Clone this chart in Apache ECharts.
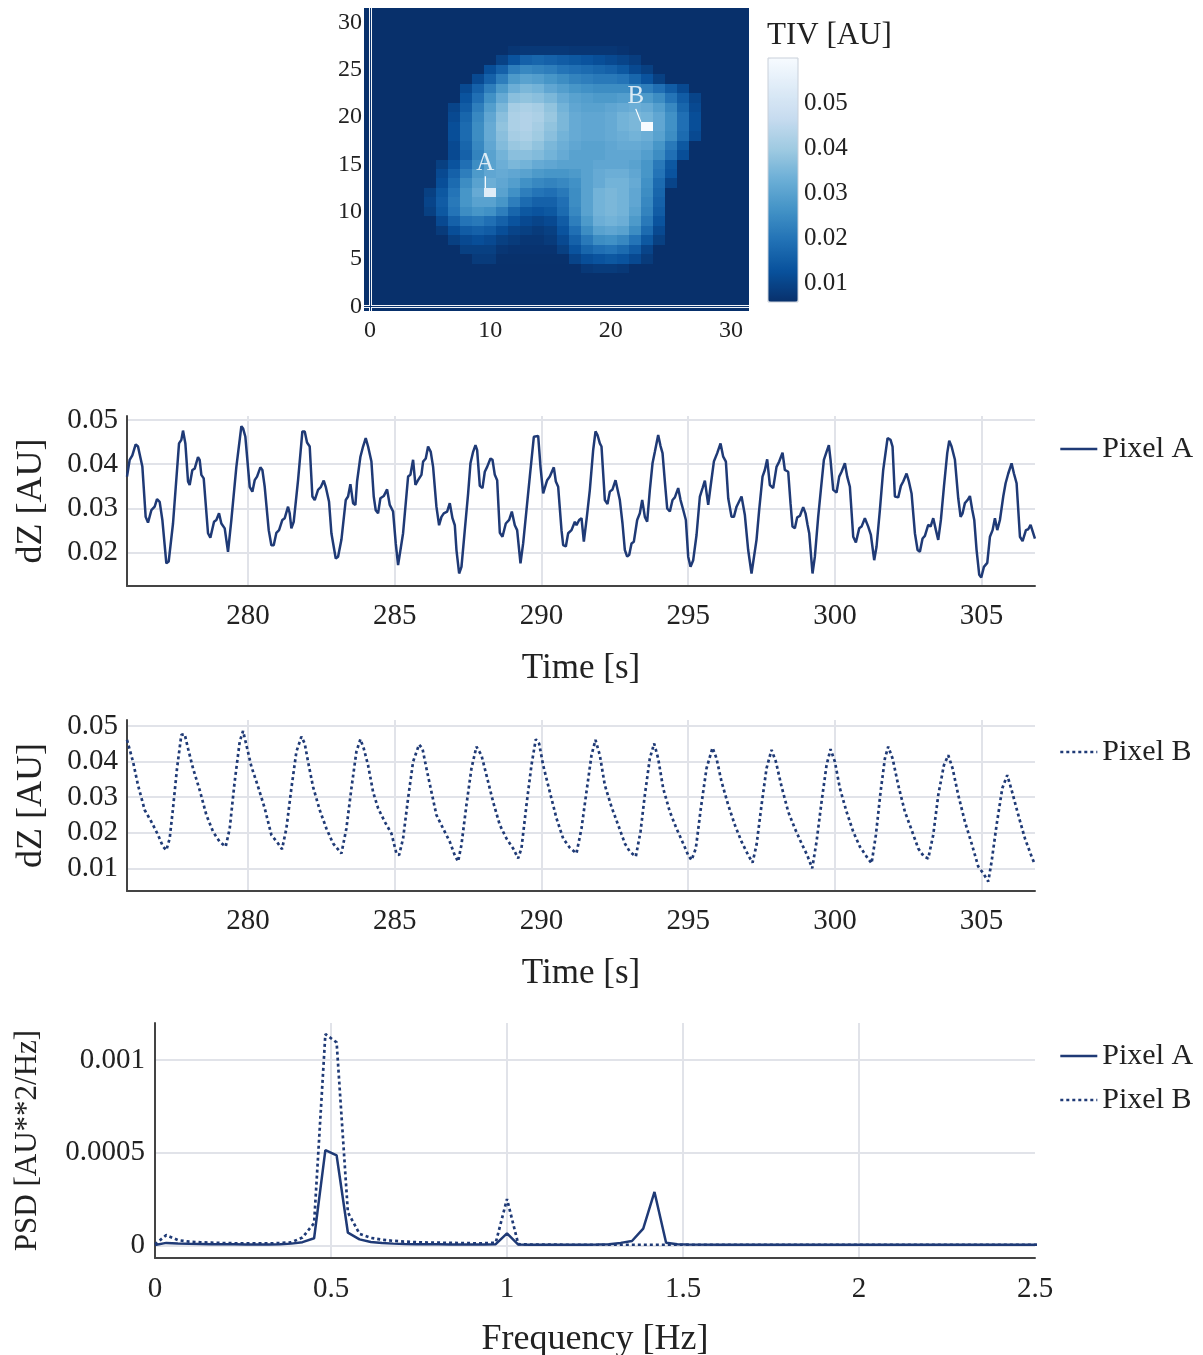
<!DOCTYPE html>
<html>
<head>
<meta charset="utf-8">
<title>TIV map and pixel signals</title>
<script src="https://cdn.jsdelivr.net/npm/echarts@6/dist/echarts.min.js"></script>
<style>
  html, body { margin: 0; padding: 0; background: #ffffff; }
  #chart { width: 1203px; height: 1355px; }
</style>
</head>
<body>
<div id="chart"></div>
<script>
// ---------------------------------------------------------------
// Tidal impedance variation map (32 x 32 pixels), values in 1e-3 AU
// ---------------------------------------------------------------
const pixelIndex = [0,1,2,3,4,5,6,7,8,9,10,11,12,13,14,15,16,17,18,19,20,21,22,23,24,25,26,27,28,29,30,31];
const tivBackground = 5.8;
// [row, first column, values from that column on]
const tivRows = [
  [27, 12, [7, 7.5, 7.5, 7.5, 7.5, 7, 7, 7, 7, 6.5]],
  [26, 11, [9.5, 13, 16, 17, 16, 15, 14, 13, 12, 11, 10, 8.5]],
  [25, 10, [12, 16, 22, 24, 23, 22, 20, 19, 18, 17, 16, 14, 11, 9]],
  [24, 9,  [11, 16, 22, 28, 30, 29, 27, 25, 23, 22, 21, 21, 20, 17, 13, 9]],
  [23, 8,  [11, 16, 22, 28, 33, 35, 34, 31, 29, 27, 26, 25, 25, 25, 24, 22, 19, 15, 11]],
  [22, 8,  [13, 19, 26, 32, 37, 38, 37, 35, 32, 30, 29, 28, 28, 29, 29, 28, 25, 20, 15, 10]],
  [21, 7,  [10, 15, 22, 29, 35, 41, 42, 41, 38, 34, 31, 30, 30, 31, 32, 33, 32, 29, 24, 17, 11]],
  [20, 7,  [11, 17, 24, 31, 37, 42, 43, 42, 39, 35, 32, 31, 31, 32, 34, 35, 34, 31, 26, 19, 12]],
  [19, 7,  [12, 18, 25, 32, 38, 42, 43, 41, 38, 35, 32, 31, 31, 32, 34, 35, 60, 31, 26, 19, 12]],
  [18, 7,  [12, 18, 25, 32, 37, 41, 42, 40, 37, 34, 32, 31, 31, 32, 33, 34, 33, 30, 25, 18, 11]],
  [17, 7,  [11, 17, 24, 31, 36, 39, 40, 38, 35, 33, 31, 30, 30, 31, 32, 32, 31, 27, 21, 14]],
  [16, 7,  [11, 16, 23, 30, 34, 37, 37, 36, 34, 32, 30, 30, 30, 31, 31, 31, 29, 25, 19, 12]],
  [15, 6,  [9, 13, 19, 25, 30, 33, 35, 34, 32, 31, 30, 30, 30, 31, 31, 31, 30, 27, 21, 14]],
  [14, 6,  [11, 16, 22, 28, 31, 32, 31, 30, 28, 27, 27, 28, 30, 32, 33, 33, 31, 27, 20, 13]],
  [13, 6,  [12, 18, 25, 30, 33, 31, 29, 26, 24, 23, 24, 26, 30, 32, 34, 34, 32, 26, 18, 10]],
  [12, 5,  [9, 14, 20, 27, 32, 53.5, 30, 26, 22, 20, 19, 21, 25, 30, 34, 35, 34, 31, 25, 17]],
  [11, 5,  [10, 15, 21, 27, 30, 30, 27, 22, 18, 16, 16, 19, 25, 30, 34, 35, 34, 31, 24, 16]],
  [10, 5,  [9, 14, 20, 25, 27, 26, 22, 17, 14, 13, 14, 18, 24, 30, 34, 35, 34, 30, 23, 15]],
  [9, 6,   [11, 16, 20, 21, 19, 16, 13, 11, 10, 11, 15, 22, 28, 33, 34, 33, 28, 21, 13]],
  [8, 6,   [8, 12, 15, 16, 15, 12, 10, 9, 8, 9, 13, 19, 25, 30, 31, 30, 25, 18, 11]],
  [7, 7,   [9, 11, 12, 11, 9, 8, 7, 7, 8, 11, 16, 21, 25, 26, 24, 20, 14, 9]],
  [6, 8,   [9, 9, 9, 7, 6.5, 6.5, 6.5, 6.5, 9, 13, 17, 19, 20, 18, 15, 10]],
  [5, 9,   [8, 8, 6, 6, 6, 6, 6, 6, 10, 12, 13, 14, 13, 11, 8]],
  [4, 18,  [7.5, 8, 8, 7.5]]
];
const markedPixels = [
  { name: 'A', col: 10, row: 12 },
  { name: 'B', col: 23, row: 19 }
];
const tivRange = [0.0058, 0.06];
const bluesScale = ['#08306b', '#08519c', '#2171b5', '#4292c6', '#6baed6', '#9ecae1', '#c6dbef', '#deebf7', '#f7fbff'];

// ---------------------------------------------------------------
// Pixel A impedance signal
// ---------------------------------------------------------------
const timeA = [
  275.875, 275.966, 276.057, 276.170, 276.250, 276.398, 276.511, 276.591, 276.705, 276.818,
  276.898, 276.989, 277.080, 277.216, 277.295, 277.443, 277.648, 277.727, 277.784, 277.864,
  277.955, 278.011, 278.102, 278.182, 278.295, 278.352, 278.409, 278.489, 278.636, 278.716,
  278.841, 278.920, 279.011, 279.091, 279.205, 279.318, 279.432, 279.602, 279.773, 279.830,
  279.909, 280.057, 280.148, 280.227, 280.307, 280.420, 280.489, 280.568, 280.705, 280.795,
  280.875, 280.966, 281.057, 281.170, 281.250, 281.364, 281.420, 281.477, 281.557, 281.705,
  281.852, 281.932, 282.011, 282.102, 282.193, 282.273, 282.386, 282.477, 282.580, 282.648,
  282.761, 282.841, 282.989, 283.068, 283.182, 283.330, 283.409, 283.489, 283.580, 283.659,
  283.716, 283.830, 283.920, 284.011, 284.091, 284.205, 284.284, 284.352, 284.432, 284.511,
  284.625, 284.739, 284.830, 284.943, 285.034, 285.114, 285.170, 285.284, 285.455, 285.534,
  285.625, 285.705, 285.795, 285.909, 285.966, 286.057, 286.136, 286.227, 286.307, 286.420,
  286.511, 286.592, 286.671, 286.785, 286.876, 286.967, 287.047, 287.103, 287.194, 287.274,
  287.387, 287.501, 287.580, 287.671, 287.751, 287.808, 287.899, 287.990, 288.069, 288.149,
  288.262, 288.331, 288.410, 288.490, 288.581, 288.671, 288.785, 288.899, 288.990, 289.092,
  289.171, 289.285, 289.376, 289.490, 289.603, 289.740, 289.808, 289.888, 289.967, 290.058,
  290.115, 290.194, 290.285, 290.421, 290.490, 290.569, 290.683, 290.740, 290.831, 290.910,
  291.024, 291.138, 291.194, 291.285, 291.365, 291.444, 291.535, 291.649, 291.762, 291.842,
  291.910, 291.990, 292.046, 292.160, 292.251, 292.330, 292.421, 292.524, 292.592, 292.671,
  292.762, 292.842, 292.921, 292.990, 293.069, 293.149, 293.262, 293.353, 293.433, 293.524,
  293.603, 293.694, 293.785, 293.865, 293.978, 294.058, 294.126, 294.205, 294.285, 294.376,
  294.467, 294.546, 294.660, 294.740, 294.830, 294.921, 295.001, 295.080, 295.171, 295.285,
  295.399, 295.490, 295.569, 295.683, 295.762, 295.876, 295.990, 296.103, 296.194, 296.285,
  296.365, 296.478, 296.558, 296.649, 296.705, 296.819, 296.932, 297.045, 297.159, 297.216,
  297.329, 297.420, 297.534, 297.613, 297.693, 297.784, 297.897, 298.011, 298.102, 298.216,
  298.295, 298.409, 298.488, 298.556, 298.636, 298.716, 298.806, 298.920, 298.999, 299.068,
  299.125, 299.238, 299.318, 299.431, 299.522, 299.625, 299.715, 299.795, 299.852, 299.943,
  300.057, 300.147, 300.227, 300.341, 300.420, 300.511, 300.625, 300.716, 300.829, 300.909,
  301.022, 301.136, 301.227, 301.340, 301.420, 301.534, 301.647, 301.795, 301.897, 301.965,
  302.045, 302.159, 302.250, 302.329, 302.443, 302.522, 302.613, 302.727, 302.818, 302.897,
  302.988, 303.068, 303.181, 303.261, 303.352, 303.443, 303.522, 303.613, 303.716, 303.829,
  303.897, 303.977, 304.091, 304.204, 304.284, 304.352, 304.431, 304.522, 304.602, 304.681,
  304.750, 304.829, 304.920, 304.988, 305.079, 305.193, 305.284, 305.375, 305.454, 305.534,
  305.625, 305.738, 305.818, 305.909, 306.022, 306.102, 306.193, 306.307, 306.397, 306.511,
  306.590, 306.670, 306.738, 306.818
];
const dzA = [
  0.0372, 0.0410, 0.0420, 0.0445, 0.0440, 0.0395, 0.0281, 0.0268, 0.0296, 0.0304,
  0.0321, 0.0315, 0.0274, 0.0176, 0.0180, 0.0266, 0.0447, 0.0455, 0.0476, 0.0447,
  0.0361, 0.0353, 0.0387, 0.0390, 0.0416, 0.0410, 0.0376, 0.0368, 0.0244, 0.0234,
  0.0270, 0.0274, 0.0289, 0.0266, 0.0255, 0.0202, 0.0274, 0.0394, 0.0486, 0.0481,
  0.0462, 0.0349, 0.0338, 0.0364, 0.0372, 0.0393, 0.0387, 0.0349, 0.0251, 0.0217,
  0.0217, 0.0245, 0.0251, 0.0274, 0.0278, 0.0304, 0.0289, 0.0255, 0.0270, 0.0364,
  0.0474, 0.0474, 0.0449, 0.0440, 0.0327, 0.0319, 0.0342, 0.0348, 0.0363, 0.0349,
  0.0315, 0.0244, 0.0187, 0.0191, 0.0229, 0.0319, 0.0327, 0.0355, 0.0312, 0.0308,
  0.0361, 0.0417, 0.0440, 0.0459, 0.0440, 0.0406, 0.0327, 0.0296, 0.0289, 0.0323,
  0.0328, 0.0343, 0.0308, 0.0293, 0.0221, 0.0172, 0.0176, 0.0244, 0.0372, 0.0376,
  0.0410, 0.0353, 0.0364, 0.0376, 0.0406, 0.0413, 0.0440, 0.0428, 0.0394, 0.0304,
  0.0262, 0.0281, 0.0289, 0.0293, 0.0312, 0.0278, 0.0262, 0.0206, 0.0153, 0.0168,
  0.0251, 0.0334, 0.0402, 0.0428, 0.0443, 0.0432, 0.0351, 0.0346, 0.0383, 0.0394,
  0.0413, 0.0410, 0.0376, 0.0364, 0.0245, 0.0236, 0.0266, 0.0274, 0.0293, 0.0262,
  0.0251, 0.0176, 0.0221, 0.0297, 0.0372, 0.0462, 0.0466, 0.0464, 0.0394, 0.0334,
  0.0330, 0.0364, 0.0372, 0.0393, 0.0361, 0.0349, 0.0251, 0.0217, 0.0214, 0.0244,
  0.0251, 0.0270, 0.0262, 0.0274, 0.0278, 0.0225, 0.0274, 0.0342, 0.0432, 0.0474,
  0.0466, 0.0447, 0.0440, 0.0319, 0.0310, 0.0338, 0.0343, 0.0364, 0.0361, 0.0319,
  0.0266, 0.0206, 0.0191, 0.0195, 0.0221, 0.0225, 0.0274, 0.0289, 0.0319, 0.0281,
  0.0270, 0.0342, 0.0402, 0.0428, 0.0466, 0.0441, 0.0425, 0.0361, 0.0300, 0.0293,
  0.0319, 0.0325, 0.0346, 0.0319, 0.0297, 0.0274, 0.0191, 0.0168, 0.0183, 0.0240,
  0.0327, 0.0346, 0.0363, 0.0308, 0.0349, 0.0406, 0.0425, 0.0447, 0.0417, 0.0406,
  0.0323, 0.0281, 0.0281, 0.0304, 0.0308, 0.0327, 0.0285, 0.0206, 0.0153, 0.0157,
  0.0229, 0.0297, 0.0372, 0.0387, 0.0411, 0.0353, 0.0346, 0.0394, 0.0406, 0.0426,
  0.0387, 0.0383, 0.0312, 0.0259, 0.0255, 0.0280, 0.0283, 0.0303, 0.0289, 0.0263,
  0.0244, 0.0153, 0.0191, 0.0281, 0.0342, 0.0410, 0.0428, 0.0443, 0.0410, 0.0342,
  0.0336, 0.0372, 0.0383, 0.0402, 0.0372, 0.0349, 0.0236, 0.0223, 0.0255, 0.0259,
  0.0278, 0.0259, 0.0240, 0.0183, 0.0214, 0.0297, 0.0387, 0.0459, 0.0455, 0.0440,
  0.0327, 0.0325, 0.0351, 0.0361, 0.0379, 0.0361, 0.0334, 0.0244, 0.0206, 0.0202,
  0.0232, 0.0238, 0.0263, 0.0259, 0.0278, 0.0251, 0.0229, 0.0274, 0.0349, 0.0425,
  0.0453, 0.0440, 0.0410, 0.0323, 0.0281, 0.0289, 0.0312, 0.0319, 0.0328, 0.0297,
  0.0274, 0.0206, 0.0150, 0.0144, 0.0168, 0.0177, 0.0236, 0.0251, 0.0278, 0.0251,
  0.0274, 0.0327, 0.0357, 0.0379, 0.0402, 0.0379, 0.0357, 0.0236, 0.0226, 0.0251,
  0.0253, 0.0263, 0.0259, 0.0232
];

// ---------------------------------------------------------------
// Pixel B impedance signal
// ---------------------------------------------------------------
const timeB = [
  275.875, 276.080, 276.250, 276.477, 276.705, 276.932, 277.102, 277.216, 277.330, 277.443,
  277.580, 277.727, 277.841, 277.955, 278.125, 278.352, 278.580, 278.807, 279.034, 279.239,
  279.375, 279.545, 279.716, 279.830, 279.943, 280.114, 280.341, 280.568, 280.795, 281.023,
  281.159, 281.307, 281.477, 281.648, 281.818, 281.932, 282.045, 282.216, 282.443, 282.670,
  282.898, 283.182, 283.352, 283.523, 283.693, 283.830, 283.943, 284.091, 284.261, 284.432,
  284.659, 284.886, 285.057, 285.148, 285.284, 285.455, 285.625, 285.830, 285.943, 286.080,
  286.250, 286.420, 286.648, 286.875, 287.045, 287.159, 287.273, 287.443, 287.614, 287.784,
  287.955, 288.125, 288.352, 288.580, 288.807, 289.034, 289.205, 289.318, 289.489, 289.659,
  289.807, 289.920, 290.057, 290.284, 290.511, 290.739, 290.966, 291.193, 291.364, 291.534,
  291.705, 291.841, 291.989, 292.159, 292.386, 292.614, 292.841, 293.011, 293.216, 293.375,
  293.523, 293.693, 293.841, 293.977, 294.148, 294.375, 294.602, 294.830, 295.000, 295.114,
  295.261, 295.432, 295.625, 295.830, 295.966, 296.136, 296.364, 296.591, 296.819, 297.046,
  297.193, 297.330, 297.500, 297.670, 297.841, 297.989, 298.182, 298.410, 298.636, 298.864,
  299.057, 299.227, 299.375, 299.546, 299.716, 299.852, 300.000, 300.170, 300.398, 300.625,
  300.852, 301.080, 301.250, 301.398, 301.557, 301.705, 301.818, 301.966, 302.159, 302.386,
  302.614, 302.841, 303.034, 303.182, 303.352, 303.523, 303.716, 303.864, 304.011, 304.205,
  304.432, 304.659, 304.886, 305.057, 305.227, 305.341, 305.511, 305.705, 305.875, 306.023,
  306.250, 306.477, 306.705, 306.818
];
const dzB = [
  0.0461, 0.0400, 0.0334, 0.0264, 0.0231, 0.0194, 0.0161, 0.0151, 0.0184, 0.0269,
  0.0381, 0.0475, 0.0477, 0.0437, 0.0381, 0.0320, 0.0250, 0.0203, 0.0175, 0.0161,
  0.0212, 0.0344, 0.0456, 0.0486, 0.0447, 0.0386, 0.0330, 0.0269, 0.0194, 0.0170,
  0.0154, 0.0212, 0.0325, 0.0428, 0.0470, 0.0451, 0.0400, 0.0329, 0.0264, 0.0212,
  0.0170, 0.0142, 0.0212, 0.0325, 0.0428, 0.0463, 0.0437, 0.0390, 0.0315, 0.0269,
  0.0231, 0.0198, 0.0142, 0.0137, 0.0184, 0.0297, 0.0400, 0.0448, 0.0437, 0.0381,
  0.0315, 0.0250, 0.0212, 0.0175, 0.0137, 0.0119, 0.0166, 0.0278, 0.0381, 0.0442,
  0.0418, 0.0362, 0.0287, 0.0222, 0.0184, 0.0156, 0.0128, 0.0156, 0.0278, 0.0390,
  0.0463, 0.0451, 0.0390, 0.0315, 0.0241, 0.0184, 0.0158, 0.0142, 0.0212, 0.0315,
  0.0418, 0.0461, 0.0418, 0.0334, 0.0273, 0.0222, 0.0170, 0.0147, 0.0133, 0.0203,
  0.0306, 0.0409, 0.0451, 0.0409, 0.0325, 0.0259, 0.0212, 0.0170, 0.0137, 0.0123,
  0.0156, 0.0269, 0.0381, 0.0439, 0.0409, 0.0344, 0.0278, 0.0222, 0.0175, 0.0137,
  0.0116, 0.0166, 0.0278, 0.0381, 0.0433, 0.0400, 0.0330, 0.0259, 0.0212, 0.0170,
  0.0137, 0.0100, 0.0175, 0.0287, 0.0390, 0.0435, 0.0400, 0.0325, 0.0259, 0.0203,
  0.0161, 0.0133, 0.0114, 0.0194, 0.0315, 0.0409, 0.0442, 0.0409, 0.0334, 0.0259,
  0.0208, 0.0156, 0.0133, 0.0128, 0.0194, 0.0306, 0.0390, 0.0418, 0.0381, 0.0306,
  0.0231, 0.0170, 0.0105, 0.0086, 0.0063, 0.0119, 0.0222, 0.0325, 0.0362, 0.0320,
  0.0250, 0.0184, 0.0133, 0.0110
];

// ---------------------------------------------------------------
// Power spectral density, values in 1e-6 AU^2/Hz
// ---------------------------------------------------------------
const freqHz = [
  0, 0.032, 0.065, 0.097, 0.129, 0.161, 0.194, 0.226, 0.258, 0.290,
  0.323, 0.355, 0.387, 0.419, 0.452, 0.484, 0.516, 0.548, 0.581, 0.613,
  0.645, 0.677, 0.710, 0.742, 0.774, 0.806, 0.839, 0.871, 0.903, 0.935,
  0.968, 1.000, 1.032, 1.065, 1.097, 1.161, 1.226, 1.258, 1.290, 1.323,
  1.355, 1.387, 1.419, 1.452, 1.484, 1.516, 1.613, 1.774, 1.935, 2.097,
  2.258, 2.419, 2.516
];
const psdA = [
  2, 13, 10, 8, 7, 6, 5, 5, 4, 4,
  4, 6, 9, 17, 38, 514, 485, 68, 32, 18,
  12, 9, 7, 6, 5, 5, 4, 4, 4, 4,
  6, 64, 4, 3, 3, 3, 3, 4, 6, 13,
  23, 90, 288, 14, 6, 4, 3, 3, 3, 3,
  3, 3, 3
];
const psdB = [
  5, 55, 28, 20, 16, 14, 12, 11, 10, 10,
  10, 12, 16, 42, 120, 1140, 1095, 178, 62, 40,
  30, 24, 20, 17, 15, 14, 13, 12, 11, 11,
  14, 250, 6, 4, 4, 3, 3, 3, 3, 3,
  3, 3, 3, 3, 3, 3, 3, 3, 3, 3,
  3, 3, 3
];

// ---------------------------------------------------------------
// Styling
// ---------------------------------------------------------------
const FONT = "'Liberation Serif', 'Times New Roman', serif";
const INK = '#222222';
const TRACE = '#1f3a76';
const GRID_LINE = '#e1e3e9';
const AXIS_LINE = '#444444';
const DOT = [3, 3];

// Build the map cells
const heatData = [];
const cellValue = {};
pixelIndex.forEach(r => pixelIndex.forEach(c => { cellValue[r + ':' + c] = tivBackground; }));
tivRows.forEach(([r, c0, vals]) => vals.forEach((v, i) => { cellValue[r + ':' + (c0 + i)] = v; }));
pixelIndex.forEach(r => pixelIndex.forEach(c => heatData.push([c, r, cellValue[r + ':' + c] / 1000])));

const zip = (xs, ys, k) => xs.map((x, i) => [x, ys[i] * (k || 1)]);

const tickLabel = (size, margin) => ({
  fontFamily: FONT, fontSize: size, color: INK, margin: margin,
  showMinLabel: false, showMaxLabel: false
});
const gridSplit = {
  show: true, showMinLine: false, showMaxLine: false,
  lineStyle: { color: GRID_LINE, width: 2 }
};
const solidAxis = { show: true, onZero: false, lineStyle: { color: AXIS_LINE, width: 2 } };
const nameStyle = size => ({ fontFamily: FONT, fontSize: size, color: INK });
const legendBase = {
  padding: 0, orient: 'vertical', itemWidth: 37, itemHeight: 14, itemGap: 14,
  selectedMode: false, itemStyle: { opacity: 0 }, lineStyle: { width: 2.6 },
  textStyle: { fontFamily: FONT, fontSize: 30, color: INK }
};

const labelOffsets = [[-5, -29], [-11, -30]];

// Each map cell covers one band on whole pixels, overlapping its neighbour by one pixel
const renderCell = (params, api) => {
  const c = api.coord([api.value(0), api.value(1)]);
  const s = api.size([1, 1]);
  const x0 = Math.round(c[0] - s[0] / 2);
  const y0 = Math.round(c[1] - s[1] / 2);
  const x1 = Math.round(c[0] + s[0] / 2);
  const y1 = Math.round(c[1] + s[1] / 2);
  return {
    type: 'rect',
    shape: { x: x0, y: y0 - 1, width: x1 - x0 + 1, height: y1 - y0 + 1 },
    style: { fill: api.visual('color'), stroke: null, lineWidth: 0 }
  };
};

const option = {
  animation: false,
  backgroundColor: '#ffffff',
  textStyle: { fontFamily: FONT },
  title: {
    text: 'TIV [AU]', left: 767, top: 20, padding: 0,
    textStyle: { fontFamily: FONT, fontSize: 31, fontWeight: 'normal', color: INK }
  },
  legend: [
    Object.assign({}, legendBase, { data: ['Pixel A'], left: 1059, top: 434 }),
    Object.assign({}, legendBase, { data: ['Pixel B'], left: 1059, top: 737 }),
    Object.assign({}, legendBase, { data: ['Pixel A', 'Pixel B'], left: 1059, top: 1041 })
  ],
  visualMap: {
    type: 'continuous', seriesIndex: 0, dimension: 2, min: tivRange[0], max: tivRange[1],
    orient: 'vertical', left: 768, top: 58, itemWidth: 30, itemHeight: 244,
    padding: 0, calculable: false, hoverLink: false, realtime: false,
    inRange: { color: bluesScale }
  },
  grid: [
    { left: 364, top: 8, width: 385, height: 303, outerBoundsMode: 'none' },
    { left: 768, top: 58, width: 30, height: 244, show: true, z: 6,
      borderColor: '#c9d0da', borderWidth: 1, backgroundColor: 'transparent', outerBoundsMode: 'none' },
    { left: 127, top: 416, width: 908, height: 170, outerBoundsMode: 'none' },
    { left: 127, top: 720, width: 908, height: 171, outerBoundsMode: 'none' },
    { left: 155, top: 1023, width: 880, height: 235, outerBoundsMode: 'none' }
  ],
  xAxis: [
    { type: 'category', gridIndex: 0, data: pixelIndex.map(String),
      axisLine: { show: false }, axisTick: { show: false }, splitLine: { show: false },
      axisLabel: { interval: 9, fontFamily: FONT, fontSize: 24, color: INK, margin: 8 } },
    { type: 'value', gridIndex: 1, min: 0, max: 1, show: false },
    { type: 'value', gridIndex: 2, min: 275.875, max: 306.82, splitNumber: 6,
      axisLine: solidAxis, axisTick: { show: false }, axisLabel: tickLabel(29, 16),
      splitLine: gridSplit,
      name: 'Time [s]', nameLocation: 'middle', nameGap: 65, nameTextStyle: nameStyle(35) },
    { type: 'value', gridIndex: 3, min: 275.875, max: 306.82, splitNumber: 6,
      axisLine: solidAxis, axisTick: { show: false }, axisLabel: tickLabel(29, 16),
      splitLine: gridSplit,
      name: 'Time [s]', nameLocation: 'middle', nameGap: 65, nameTextStyle: nameStyle(35) },
    { type: 'value', gridIndex: 4, min: 0, max: 2.5, interval: 0.5,
      axisLine: solidAxis, axisTick: { show: false },
      axisLabel: { fontFamily: FONT, fontSize: 29, color: INK, margin: 17 },
      splitLine: gridSplit,
      name: 'Frequency [Hz]', nameLocation: 'middle', nameGap: 64, nameTextStyle: nameStyle(36) }
  ],
  yAxis: [
    { type: 'category', gridIndex: 0, data: pixelIndex.map(String),
      axisLine: { show: false }, axisTick: { show: false }, splitLine: { show: false },
      axisLabel: { interval: 4, fontFamily: FONT, fontSize: 24, color: INK, margin: 2 } },
    { type: 'value', gridIndex: 1, position: 'right', min: tivRange[0], max: tivRange[1], splitNumber: 5,
      axisLine: { show: false }, axisTick: { show: false }, splitLine: { show: false },
      axisLabel: tickLabel(25, 6) },
    { type: 'value', gridIndex: 2, min: 0.01247, max: 0.0509, splitNumber: 4,
      axisLine: solidAxis, axisTick: { show: false }, axisLabel: tickLabel(29, 9),
      splitLine: gridSplit,
      name: 'dZ [AU]', nameLocation: 'middle', nameGap: 77, nameTextStyle: nameStyle(36) },
    { type: 'value', gridIndex: 3, min: 0.00363, max: 0.0517, splitNumber: 5,
      axisLine: solidAxis, axisTick: { show: false }, axisLabel: tickLabel(29, 9),
      splitLine: gridSplit,
      name: 'dZ [AU]', nameLocation: 'middle', nameGap: 77, nameTextStyle: nameStyle(36) },
    { type: 'value', gridIndex: 4, min: -0.0000686, max: 0.0012, splitNumber: 2,
      axisLine: solidAxis, axisTick: { show: false }, axisLabel: tickLabel(29, 10),
      splitLine: gridSplit,
      name: 'PSD [AU**2/Hz]', nameLocation: 'middle', nameGap: 112, nameTextStyle: nameStyle(31) }
  ],
  series: [
    {
      type: 'custom', xAxisIndex: 0, yAxisIndex: 0, data: heatData,
      renderItem: renderCell, clip: true, silent: true,
      encode: { x: 0, y: 1 },
      markLine: {
        silent: true, symbol: 'none', animation: false, label: { show: false },
        lineStyle: { color: '#ffffff', width: 3, type: 'solid', opacity: 0.95 },
        data: [{ xAxis: 0 }, { yAxis: 0 }]
      }
    },
    {
      type: 'scatter', xAxisIndex: 0, yAxisIndex: 0, silent: true,
      symbol: 'rect', symbolSize: [12, 9.5],
      itemStyle: { color: 'rgba(0,0,0,0)' },
      data: markedPixels.map(p => ({ name: p.name, value: [p.col, p.row] })),
      label: { show: true, position: 'inside', formatter: '{b}', color: '#ffffff', fontFamily: FONT, fontSize: 25 },
      labelLine: { show: true, lineStyle: { color: '#ffffff', width: 1.2 } },
      labelLayout: params => ({ dx: labelOffsets[params.dataIndex][0], dy: labelOffsets[params.dataIndex][1] }),
      markLine: {
        silent: true, symbol: 'none', animation: false, label: { show: false },
        lineStyle: { color: '#0b3470', width: 1, type: 'solid' },
        data: [{ xAxis: 0 }, { yAxis: 0 }]
      }
    },
    {
      name: 'Pixel A', type: 'line', xAxisIndex: 2, yAxisIndex: 2, data: zip(timeA, dzA),
      symbol: 'none', showSymbol: false, silent: true,
      lineStyle: { color: TRACE, width: 2.5 }, itemStyle: { color: TRACE }
    },
    {
      name: 'Pixel B', type: 'line', xAxisIndex: 3, yAxisIndex: 3, data: zip(timeB, dzB),
      symbol: 'none', showSymbol: false, silent: true,
      lineStyle: { color: TRACE, width: 2.7, type: DOT }, itemStyle: { color: TRACE }
    },
    {
      name: 'Pixel A', type: 'line', xAxisIndex: 4, yAxisIndex: 4, data: zip(freqHz, psdA, 1e-6),
      symbol: 'none', showSymbol: false, silent: true,
      lineStyle: { color: TRACE, width: 2.5 }, itemStyle: { color: TRACE }
    },
    {
      name: 'Pixel B', type: 'line', xAxisIndex: 4, yAxisIndex: 4, data: zip(freqHz, psdB, 1e-6),
      symbol: 'none', showSymbol: false, silent: true,
      lineStyle: { color: TRACE, width: 2.7, type: DOT }, itemStyle: { color: TRACE }
    }
  ]
};

const chart = echarts.init(document.getElementById('chart'), null, { renderer: 'canvas' });
chart.setOption(option);
</script>
</body>
</html>
